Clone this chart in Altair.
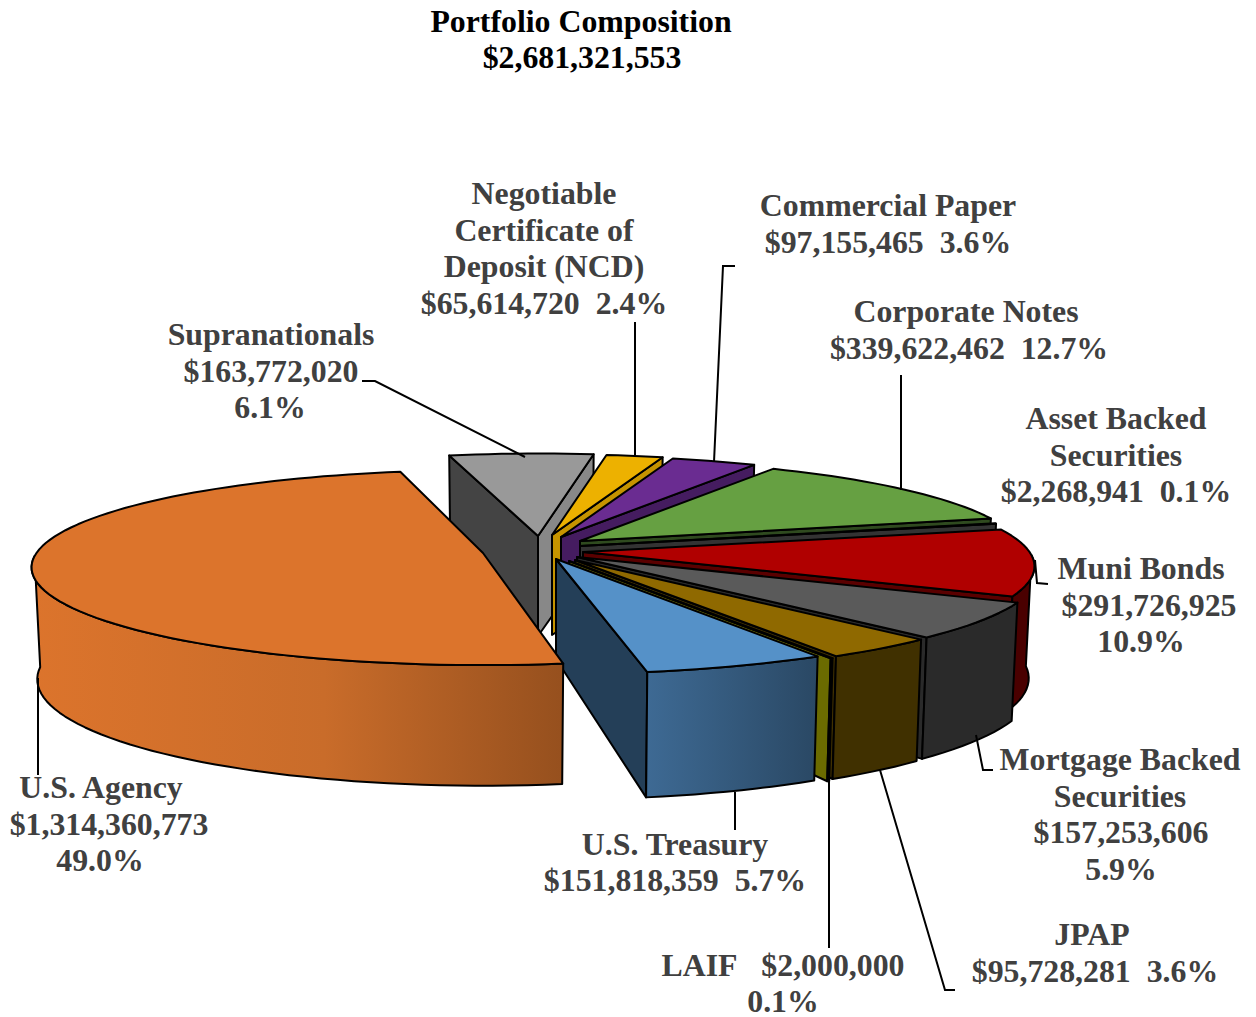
import math
import altair as alt
import pandas as pd

# ---- values
categories = ["Supranationals", "NCD", "Commercial Paper", "Corporate Notes", "Asset Backed",
              "Muni Bonds", "Mortgage Backed", "JPAP", "LAIF", "U.S. Treasury", "U.S. Agency"]
values = [163772020, 65614720, 97155465, 339622462, 2268941,
          291726925, 157253606, 95728281, 2000000, 151818359, 1314360773]
total = 2681321553

# ---- style per slice
top_colors = ["#999999", "#EDB100", "#6A2C91", "#66A042", "#555555",
              "#B00000", "#5A5A5A", "#8F6900", "#7A7A00", "#5591C8", "#DC742C"]
start_wall = ["#444444", "#8A6A00", "#451C60", "#2F4A1F", "#333333",
              "#4A0000", "#2A2A2A", "#403000", "#6B6B00", "#243F58", "#96501E"]
end_wall = ["#888888", "#C69400", "#451C60", "#2F4A1F", "#333333",
            "#5A0000", "#2A2A2A", "#403000", "#6B6B00", "#243F58", "#96501E"]
rim_wall = ["#444444", "#C69400", "#451C60", "#2F4A1F", "#333333",
            "#4A0000", "#2A2A2A", "#403000", "#6B6B00", "#355A80", "#DC742C"]
# exploded tip of each slice, radial scale and wall height factor
tips = [(538, 536), (552, 535), (561, 537), (580, 541), (580, 546),
        (583, 552), (577, 557), (575, 560), (569, 561), (556, 559), (483, 553)]
rad_scale = [0.97, 0.95, 0.96, 0.96, 0.97, 0.975, 1.0, 0.99, 1.0, 1.0, 0.975]
wall_scale = [1, 1, 1, 1, 1, 0.97, 1, 1, 1, 1.01, 0.97]

A, B, P = 458, 100, 0.15
START = 170.0  # degrees clockwise from the back, where the U.S. Agency slice starts
AGENCY_TURN = 1.0
W, H = 1240, 1009
xs = alt.Scale(domain=[8, 8 + W], range=[0, W])
ys = alt.Scale(domain=[8 + H, 8], range=[H, 0])


def rim(tip, rs, th, down=0.0):
    t = math.radians(th)
    u, v = math.sin(t), -math.cos(t)
    s = 1 + P * v
    d = down * 114 * (1 + 0.09 * v)
    return (tip[0] + A * rs * u * s * (1 - 0.013 * min(down, 1)), tip[1] + B * rs * v * s + d)


def polygon(points, fill, sw=2, stroke="#000000"):
    df = pd.DataFrame({"x": [p[0] for p in points], "y": [p[1] for p in points],
                       "i": list(range(len(points)))})
    return alt.Chart(df).mark_line(fill=fill, stroke=stroke, strokeWidth=sw, interpolate="linear-closed",
                                   strokeJoin="round", opacity=1).encode(
        x=alt.X("x:Q", scale=xs, axis=None), y=alt.Y("y:Q", scale=ys, axis=None), order="i:Q")


def path(points, sw=2):
    df = pd.DataFrame({"x": [p[0] for p in points], "y": [p[1] for p in points],
                       "i": list(range(len(points)))})
    return alt.Chart(df).mark_line(stroke="#000000", strokeWidth=sw).encode(
        x=alt.X("x:Q", scale=xs, axis=None), y=alt.Y("y:Q", scale=ys, axis=None), order="i:Q")


layers = []
# angular extents from the dollar values; Agency is last in the list and starts at START
angle = START + values[-1] / total * 360
extents = []
for val in values[:-1]:
    sweep = val / total * 360
    extents.append((angle, angle + sweep))
    angle += sweep
extents.append((START + AGENCY_TURN, START + AGENCY_TURN + values[-1] / total * 360))

for k, name in enumerate(categories):
    th0, th1 = extents[k]
    tip, rs, ws = tips[k], rad_scale[k], wall_scale[k]
    n = max(2, int((th1 - th0) / 2) + 2)
    ths = [th0 + (th1 - th0) * j / (n - 1) for j in range(n)]
    apex_low = (tip[0], tip[1] + 100)
    if math.sin(math.radians(th1)) > 0:  # clockwise cut face
        layers.append(polygon([tip, rim(tip, rs, th1), rim(tip, rs, th1, ws), apex_low], end_wall[k]))
    if math.sin(math.radians(th0)) < 0:  # counter-clockwise cut face
        layers.append(polygon([tip, rim(tip, rs, th0), rim(tip, rs, th0, ws), apex_low], start_wall[k]))
    vis = [t for t in ths if -math.cos(math.radians(t)) >= -0.001]
    if len(vis) >= 2:
        pts = [rim(tip, rs, t) for t in vis] + [rim(tip, rs, t, ws) for t in reversed(vis)]
        fill = rim_wall[k]
        if name == "U.S. Agency":
            fill = alt.Gradient(gradient="linear", x1=1, x2=0, y1=0, y2=0,
                                stops=[alt.GradientStop(color="#96501E", offset=0),
                                       alt.GradientStop(color="#C96C2A", offset=0.45),
                                       alt.GradientStop(color="#DC742C", offset=1)])
        if name == "U.S. Treasury":
            fill = alt.Gradient(gradient="linear", x1=0, x2=1, y1=0, y2=0,
                                stops=[alt.GradientStop(color="#3E6A94", offset=0),
                                       alt.GradientStop(color="#2A4864", offset=1)])
        layers.append(polygon(pts, fill))
    layers.append(polygon([tip] + [rim(tip, rs, t) for t in ths], top_colors[k]))

# ---- leader lines
leaders = [
    [(362, 381), (375, 381), (525, 457)],
    [(635, 322), (635, 455)],
    [(735, 266), (723, 266), (714, 462)],
    [(901, 375), (901, 490)],
    [(1048, 584), (1037, 583), (1035, 560)],
    [(993, 770), (983, 770), (976, 735)],
    [(955, 990), (945, 990), (880, 770)],
    [(829, 780), (829, 948)],
    [(735, 792), (735, 830)],
    [(38, 678), (38, 775)],
]
for lead in leaders:
    layers.append(path(lead))

# ---- text
label_text = [
    "Negotiable", "Certificate of", "Deposit (NCD)", "$65,614,720\u00a0\u00a02.4%",
    "Commercial Paper", "$97,155,465\u00a0\u00a03.6%",
    "Corporate Notes", "$339,622,462\u00a0\u00a012.7%",
    "Asset Backed", "Securities", "$2,268,941\u00a0\u00a00.1%",
    "Muni Bonds", "$291,726,925", "10.9%",
    "Mortgage Backed", "Securities", "$157,253,606", "5.9%",
    "JPAP", "$95,728,281\u00a0\u00a03.6%",
    "LAIF\u00a0\u00a0\u00a0$2,000,000", "0.1%",
    "U.S. Treasury", "$151,818,359\u00a0\u00a05.7%",
    "U.S. Agency", "$1,314,360,773", "49.0%",
    "Supranationals", "$163,772,020", "6.1%",
]
label_x = [544, 544, 544, 544, 888, 888, 966, 969, 1116, 1116, 1116, 1141, 1149, 1141,
           1120, 1120, 1121, 1121, 1092, 1095, 783, 783, 675, 675, 101, 109, 100, 271, 271, 270]
label_y = [194, 231, 267, 304, 206, 243, 312, 349, 419, 456, 492, 569, 606, 642,
           760, 797, 833, 870, 935, 972, 966, 1002, 845, 881, 788, 825, 861, 335, 372, 408]
labels = pd.DataFrame({"t": label_text, "x": label_x, "y": label_y})
layers.append(alt.Chart(labels).mark_text(font="Liberation Serif", fontWeight="bold", fontSize=31.8,
                                          color="#404040", align="center", baseline="middle").encode(
    x=alt.X("x:Q", scale=xs, axis=None), y=alt.Y("y:Q", scale=ys, axis=None), text="t:N"))

title_text = ["Portfolio Composition", "$2,681,321,553"]
title_x = [581, 582]
title_y = [22, 58]
titles = pd.DataFrame({"t": title_text, "x": title_x, "y": title_y})
layers.append(alt.Chart(titles).mark_text(font="Liberation Serif", fontWeight="bold", fontSize=31.8,
                                          color="#000000", align="center", baseline="middle").encode(
    x=alt.X("x:Q", scale=xs, axis=None), y=alt.Y("y:Q", scale=ys, axis=None), text="t:N"))

chart = alt.layer(*layers).properties(width=W, height=H, padding=0, autosize=alt.AutoSizeParams(type="none")).configure_view(stroke=None)
chart.save("out.html", embed_options={"renderer": "svg", "actions": False})
